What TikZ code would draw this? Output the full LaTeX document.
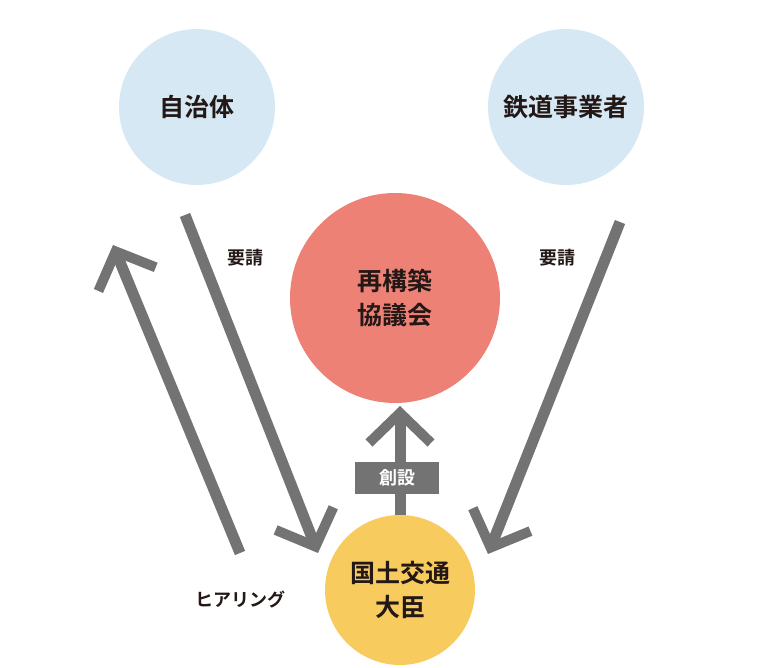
\documentclass[tikz,border=0pt]{standalone}
\usepackage{fontspec}
\newfontfamily\jpfont{Noto Sans CJK JP}[BoldFont={Noto Sans CJK JP Bold}]
\usetikzlibrary{arrows.meta}
\definecolor{skyblue}{HTML}{D6E8F3}
\definecolor{redcirc}{HTML}{EE8176}
\definecolor{yelcirc}{HTML}{F7CB5E}
\definecolor{arrgray}{HTML}{737373}
\definecolor{ink}{HTML}{231815}
\tikzset{
  circ/.style={circle, inner sep=0pt, text=ink, font=\jpfont\bfseries\fontsize{25}{34}\selectfont, align=center},
  bigarrow/.style={draw=arrgray, line width=11pt, -{Straight Barb[length=30pt,width=62pt,line width=10pt]}},
  lbl/.style={text=ink, font=\jpfont\bfseries\fontsize{18}{20}\selectfont}
}
\begin{document}
\begin{tikzpicture}[x=1pt,y=-1pt]
  \useasboundingbox (0,0) rectangle (772,668);
  \node[circ, fill=skyblue, minimum size=156pt] (jichitai) at (197,107) {自治体};
  \node[circ, fill=skyblue, minimum size=156pt] (tetsudo) at (566,107) {鉄道事業者};
  \node[circ, fill=redcirc, minimum size=210pt] (kyogikai) at (395,298) {再構築\\協議会};
  \node[circ, fill=yelcirc, minimum size=150pt] (daijin) at (400,590) {国土交通\\大臣};
  \coordinate (a1) at (185,215);
  \coordinate (a2) at (318,553);
  \coordinate (h1) at (240,553);
  \coordinate (h2) at (113,245);
  \coordinate (r1) at (620,222);
  \coordinate (r2) at (488,554);
  \coordinate (u1) at (400,515);
  \coordinate (u2) at (400,406);
  \draw[bigarrow] (a1) -- (a2);
  \draw[bigarrow] (h1) -- (h2);
  \draw[bigarrow] (r1) -- (r2);
  \draw[bigarrow] (u1) -- (u2);
  \node[fill=arrgray, text=white, font=\jpfont\bfseries\fontsize{18}{20}\selectfont, minimum width=84pt, minimum height=32pt] (sosetsu) at (397,478) {創設};
  \node[lbl] (yosei1) at (245,258) {要請};
  \node[lbl] (yosei2) at (557,258) {要請};
  \node[lbl] (hearing) at (240,600) {ヒアリング};
\end{tikzpicture}
\end{document}
